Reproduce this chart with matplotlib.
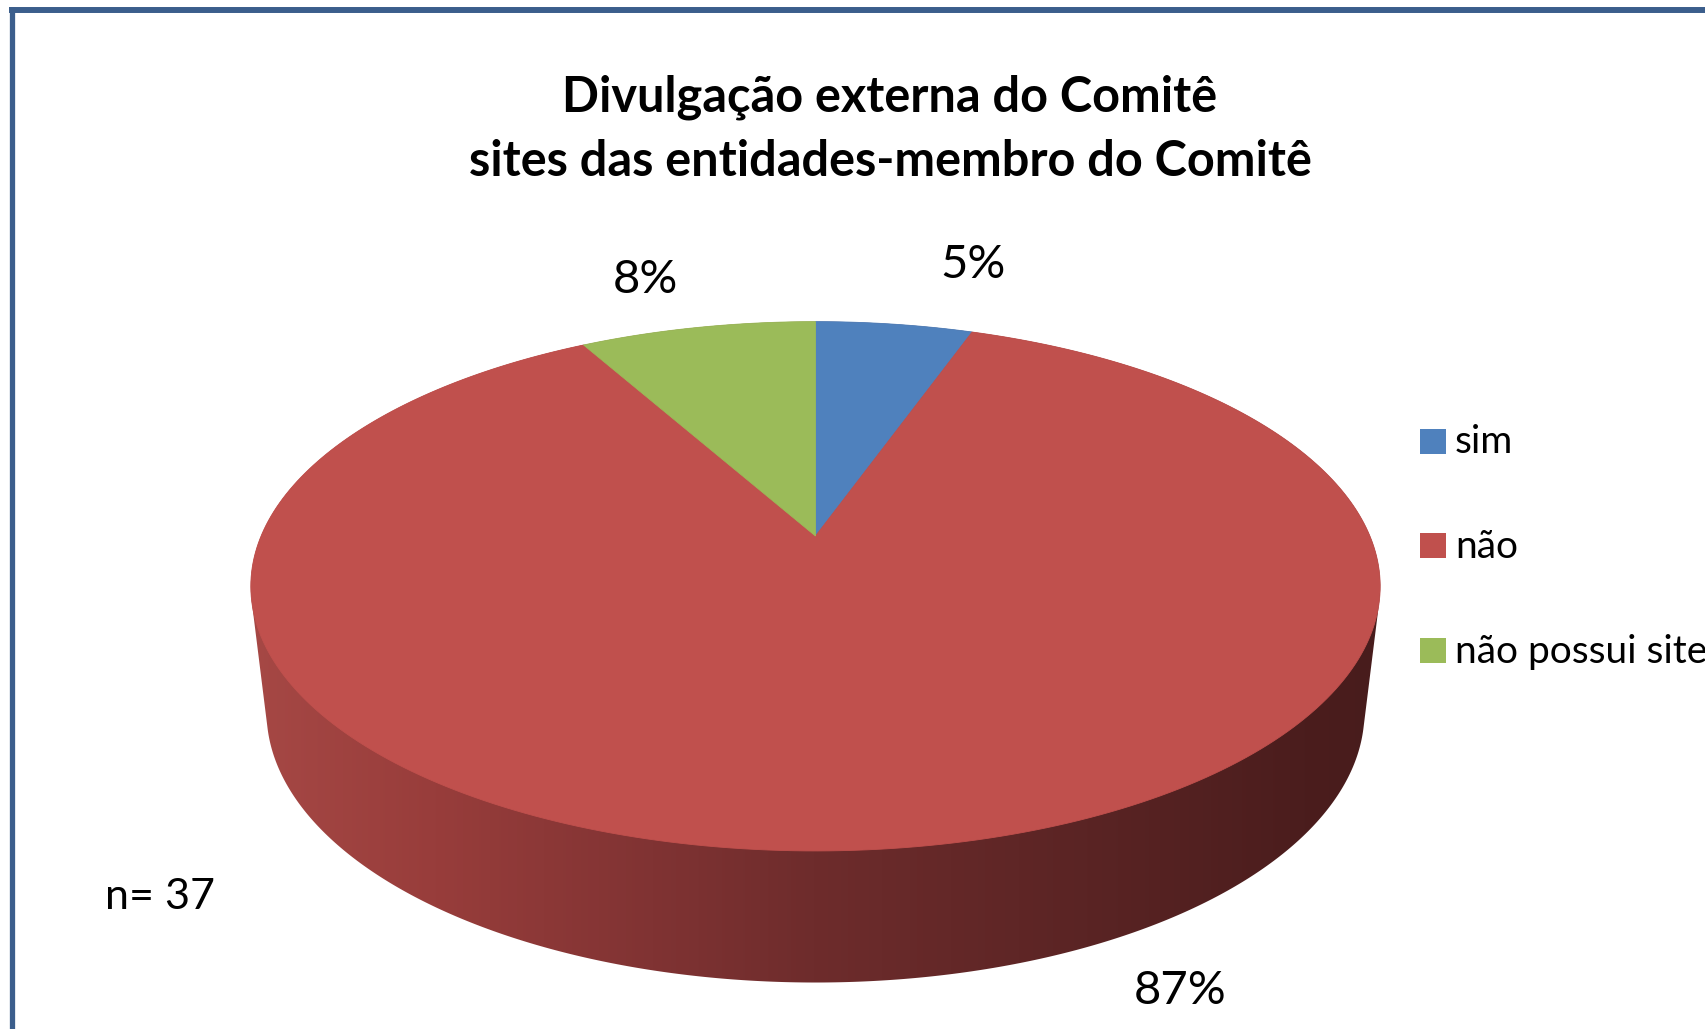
import numpy as np
import matplotlib
matplotlib.use("Agg")
import matplotlib.pyplot as plt
from matplotlib.patches import Polygon, Rectangle

# dados do grafico
categorias = ["sim", "não", "não possui site"]
valores = [2, 32, 3]
rotulos = ["5%", "87%", "8%"]
cores = ["#4F81BD", "#C0504D", "#9BBB59"]
titulo_l1 = "Divulgação externa do Comitê"
titulo_l2 = "sites das entidades-membro do Comitê"
nota = "n= 37"

W, H = 1706, 1029
plt.rcParams['font.family'] = ['Lato', 'DejaVu Sans']

# projecao em perspectiva do disco (u, v) -> pixels
topo = dict(cx=815.5, cy=536.0, a=554.4, b=255.1, k=0.19)
base = dict(cx=815.5, cy=663.0, a=540.0, b=262.0, k=0.18)


def projetar(u, v, cx, cy, a, b, k):
    d = 1 - k * v
    return cx + a * u / d, cy + b * v / d


def casco(pts):
    # fecho convexo (monotone chain)
    pts = sorted(set(map(tuple, np.round(pts, 3))))
    def cruz(o, p, q):
        return (p[0] - o[0]) * (q[1] - o[1]) - (p[1] - o[1]) * (q[0] - o[0])
    inf, sup = [], []
    for p in pts:
        while len(inf) >= 2 and cruz(inf[-2], inf[-1], p) <= 0:
            inf.pop()
        inf.append(p)
    for p in reversed(pts):
        while len(sup) >= 2 and cruz(sup[-2], sup[-1], p) <= 0:
            sup.pop()
        sup.append(p)
    return np.array(inf[:-1] + sup[:-1])


fig = plt.figure(figsize=(W / 100, H / 100), dpi=100)
ax = fig.add_axes([0, 0, 1, 1])

# lateral do cilindro com gradiente horizontal
t = np.linspace(0, 2 * np.pi, 720)
xt, yt = projetar(np.sin(t), -np.cos(t), **topo)
xb, yb = projetar(np.sin(t), -np.cos(t), **base)
contorno = casco(np.column_stack([np.r_[xt, xb], np.r_[yt, yb]]))
lateral = Polygon(contorno, closed=True, fc="none", ec="none", transform=ax.transData)
ax.add_patch(lateral)

paradas_x = [250, 435, 653, 814, 1088, 1305, 1381]
paradas_c = [(166, 72, 69), (152, 61, 59), (128, 51, 51), (110, 44, 44),
             (90, 36, 36), (75, 29, 29), (72, 28, 28)]
gx = np.linspace(245, 1386, 600)
grad = np.stack([np.interp(gx, paradas_x, [c[i] for c in paradas_c]) for i in range(3)], axis=-1) / 255
img = ax.imshow(grad[np.newaxis, :, :], extent=(245, 1386, 1000, 300), aspect="auto",
                interpolation="bilinear", zorder=1)
img.set_clip_path(lateral)

# fatias do topo
fracoes = np.array(valores) / sum(valores)
limites = np.concatenate([[0], np.cumsum(fracoes)]) * 2 * np.pi
centro = projetar(0.0, 0.0, **topo)
for i in range(len(valores)):
    ang = np.linspace(limites[i], limites[i + 1], 300)
    xs, ys = projetar(np.sin(ang), -np.cos(ang), **topo)
    poly = np.column_stack([np.r_[centro[0], xs], np.r_[centro[1], ys]])
    ax.add_patch(Polygon(poly, closed=True, fc=cores[i], ec=cores[i], lw=0.6, zorder=2))

# rotulos de percentual
pos_rotulos = [(973, 265), (1180, 991), (645, 280)]
for r, (x, y) in zip(rotulos, pos_rotulos):
    ax.text(x, y, r, fontsize=34, ha="center", va="center", color="black", zorder=3)

ax.text(160, 897, nota, fontsize=31, ha="center", va="center", color="black")

# titulo
ax.text(890, 112, titulo_l1, fontsize=35, fontweight="bold", ha="center", va="baseline")
ax.text(890, 176, titulo_l2, fontsize=35, fontweight="bold", ha="center", va="baseline")

# legenda
leg_y = [441, 545.5, 650.5]
for cat, cor, y in zip(categorias, cores, leg_y):
    ax.add_patch(Rectangle((1420, y - 12.5), 26, 25, fc=cor, ec="none"))
    ax.text(1455, y + 1, cat, fontsize=28, ha="left", va="center", color="black")

# moldura
ax.plot([9, W], [10, 10], color="#3B5E8C", lw=4.3, solid_capstyle="butt")
ax.plot([12, 12], [7, H], color="#3B5E8C", lw=3.8, solid_capstyle="butt")

ax.set_xlim(0, W)
ax.set_ylim(H, 0)
ax.axis("off")

fig.savefig("out.png", dpi=100, facecolor="white")
